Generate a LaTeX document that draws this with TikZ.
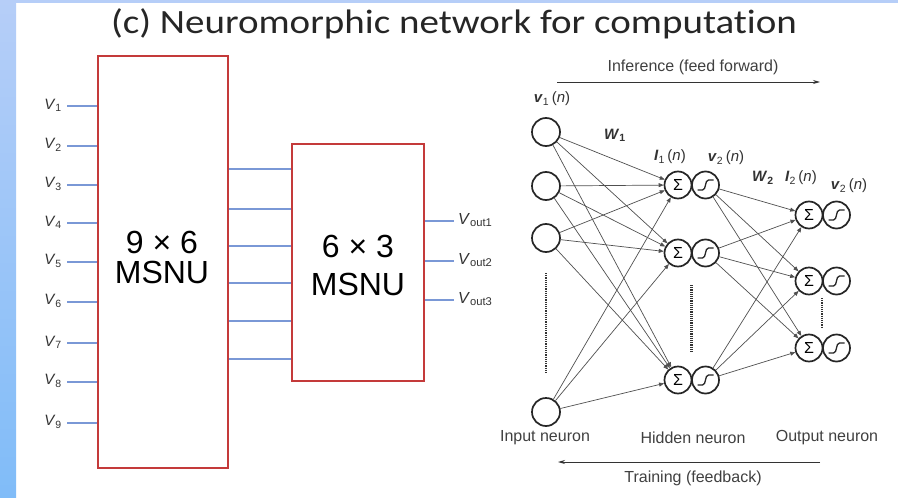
\documentclass[tikz,border=0pt]{standalone}
\usepackage{fontspec}
\setmainfont{Liberation Sans}
\newfontfamily\titlefont[Ligatures=NoCommon]{Carlito}
\usetikzlibrary{arrows.meta}
\definecolor{boxred}{HTML}{C43A3A}
\definecolor{wireblue}{HTML}{7A98D6}
\definecolor{striptop}{HTML}{B6CEF8}
\definecolor{stripbot}{HTML}{80BCF8}
\definecolor{txtgray}{HTML}{333333}
\definecolor{edgegray}{HTML}{505050}
\begin{document}
\begin{tikzpicture}[x=1pt,y=-1pt,
  msnu/.style={draw=boxred,line width=2.2pt,fill=white,inner sep=0pt},
  bigtxt/.style={font=\fontsize{32}{32}\selectfont,anchor=base,text=black},
  wire/.style={draw=wireblue,line width=1.4pt},
  vlab/.style={font=\fontsize{15}{15}\selectfont,text=txtgray,inner sep=1pt},
  neur/.style={circle,draw=black!85,line width=1.7pt,minimum size=28pt,inner sep=0pt},
  sumn/.style={circle,draw=black!85,line width=1.7pt,minimum size=27pt,inner sep=0pt,font=\fontsize{16}{16}\selectfont},
  sgn/.style={circle,draw=black!85,line width=1.7pt,minimum size=27pt,inner sep=0pt},
  edge/.style={draw=edgegray,line width=0.7pt,-{Triangle[length=5pt,width=4pt]}},
  nlab/.style={font=\fontsize{15}{15}\selectfont,text=black!80,inner sep=0pt},
  clab/.style={font=\fontsize{16}{16}\selectfont,text=black!75,inner sep=0pt},
  dots/.style={draw=black!80,line width=2.2pt,dash pattern=on 1.2pt off 1pt},
  flow/.style={draw=black!80,line width=0.9pt,-{Stealth[length=7pt,width=4pt]}},
  sig/.pic={\draw[line width=1.3pt,black!85] (-8,5) -- (-3,5) .. controls (1,5) and (-1,-5) .. (3,-5) -- (8,-5);}
]
\useasboundingbox (0,0) rectangle (898,498);
\fill[white] (0,0) rectangle (898,498);
\shade[top color=striptop,bottom color=stripbot] (0,0) rectangle (16,498);
\fill[striptop] (0,0) rectangle (898,3);

% title
\node[font=\titlefont\fontsize{34}{34}\selectfont,anchor=base,text=black!85] (title) at (454,33) {\scalebox{1.147}[1]{(c) Neuromorphic network for computation}};

% boxes
\node[msnu,minimum width=130pt,minimum height=412pt] (A) at (163,262) {};
\node[msnu,minimum width=132pt,minimum height=237pt] (B) at (358,262.5) {};
\node[bigtxt] (A1) at (162,253) {9 × 6};
\node[bigtxt] (A2) at (162,283) {MSNU};
\node[bigtxt] (B1) at (358,257) {6 × 3};
\node[bigtxt] (B2) at (358,295) {MSNU};

% inputs
\foreach \i/\y in {1/106,2/146,3/185,4/223,5/262,6/302,7/343,8/382,9/423}{
  \node[vlab,anchor=east] (v\i) at (63,\y-1) {\textit{V}\textsubscript{\i}};
  \coordinate (vs\i) at (67,\y);
  \draw[wire] (vs\i) -- (A.west |- vs\i);
}
% between boxes
\foreach \y in {169,209,246,283,321,359}{
  \draw[wire] (A.east |- 0,\y) -- (B.west |- 0,\y);
}
% outputs
\foreach \i/\y in {1/221,2/261,3/300}{
  \coordinate (ve\i) at (454,\y);
  \draw[wire] (B.east |- ve\i) -- (ve\i);
  \node[vlab,anchor=west,font=\fontsize{16}{16}\selectfont] (vo\i) at (457,\y-1) {\textit{V}\textsubscript{out\i}};
}

% network
\node[clab] (inf) at (693,67) {Inference (feed forward)};
\coordinate (infa) at (557,82);
\coordinate (infb) at (820,82);
\draw[flow] (infa) -- (infb);

\foreach \i/\y in {1/132,2/186,3/238,4/412}{
  \node[neur] (in\i) at (546,\y) {};
}
\foreach \i/\y in {1/185,2/253,3/380}{
  \node[sumn] (hs\i) at (678,\y) {Σ};
  \node[sgn] (hg\i) at (705.5,\y) {};
  \pic at (hg\i) {sig};
}
\foreach \i/\y in {1/215,2/281,3/348}{
  \node[sumn] (os\i) at (809,\y) {Σ};
  \node[sgn] (og\i) at (836.5,\y) {};
  \pic at (og\i) {sig};
}
\foreach \i in {1,2,3,4}{
  \foreach \j in {1,2,3}{
    \draw[edge] (in\i) -- (hs\j);
  }
}
\foreach \i in {1,2,3}{
  \foreach \j in {1,2,3}{
    \draw[edge] (hg\i) -- (os\j);
  }
}
% dotted
\coordinate (d1a) at (546,273); \coordinate (d1b) at (546,373);
\coordinate (d2a) at (691.5,285); \coordinate (d2b) at (691.5,353);
\coordinate (d3a) at (822,298); \coordinate (d3b) at (822,328);
\draw[dots] (d1a) -- (d1b);
\draw[dots] (d2a) -- (d2b);
\draw[dots] (d3a) -- (d3b);

% labels
\node[nlab] (l1) at (552,99) {\textbf{\textit{v}}\textsubscript{1}\,(\textit{n})};
\node[nlab] (l2) at (615,135) {\textbf{\textit{W}}\textsubscript{\textbf{1}}};
\node[nlab] (l3) at (670,157) {\textbf{\textit{I}}\textsubscript{1}\,(\textit{n})};
\node[nlab] (l4) at (726,158) {\textbf{\textit{v}}\textsubscript{2}\,(\textit{n})};
\node[nlab] (l5) at (763,178) {\textbf{\textit{W}}\textsubscript{\textbf{2}}};
\node[nlab] (l6) at (801,178) {\textbf{\textit{I}}\textsubscript{2}\,(\textit{n})};
\node[nlab] (l7) at (849,186) {\textbf{\textit{v}}\textsubscript{2}\,(\textit{n})};

\node[clab] (inl) at (545,438) {Input neuron};
\node[clab] (hil) at (693,438) {Hidden neuron};
\node[clab] (oul) at (827,438) {Output neuron};
\coordinate (tra) at (820,462);
\coordinate (trb) at (558,462);
\draw[flow] (tra) -- (trb);
\node[clab] (trl) at (693,478) {Training (feedback)};
\end{tikzpicture}
\end{document}
